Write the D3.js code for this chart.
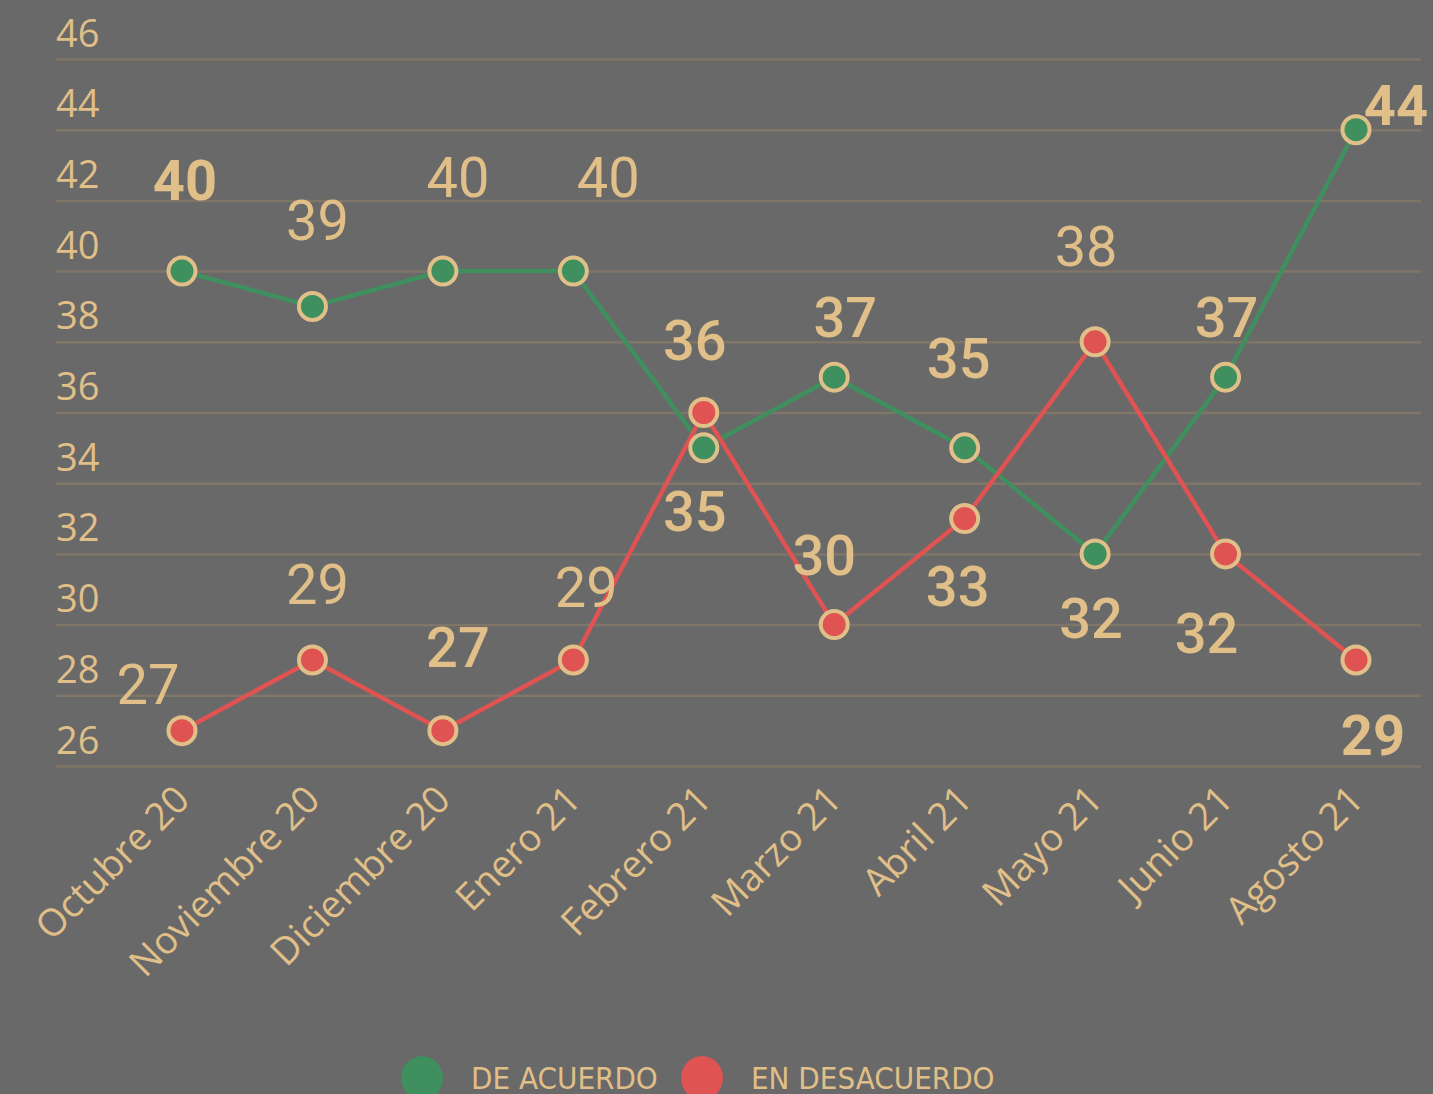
<!DOCTYPE html>
<html>
<head>
<meta charset="utf-8">
<script src="https://cdn.jsdelivr.net/npm/d3@7"></script>
<style>
  html, body { margin: 0; padding: 0; background: #696969; }
  svg { display: block; }
</style>
</head>
<body>
<div id="chart"></div>
<script>
// DATA
var months = ["Octubre 20", "Noviembre 20", "Diciembre 20", "Enero 21", "Febrero 21",
              "Marzo 21", "Abril 21", "Mayo 21", "Junio 21", "Agosto 21"];
var deAcuerdo = [40, 39, 40, 40, 35, 37, 35, 32, 37, 44];
var enDesacuerdo = [27, 29, 27, 29, 36, 30, 33, 38, 32, 29];
var yTicks = [26, 28, 30, 32, 34, 36, 38, 40, 42, 44, 46];
var seriesNames = ["DE ACUERDO", "EN DESACUERDO"];

// label placement (offset from point) and weights
var greenOffsets = [[3,-71],[5,-66],[15,-74],[35,-74],[-9,83],[11,-40],[-6,-70],[-4,84],[1,-40],[40,-5]];
var redOffsets = [[-34,-27],[5,-56],[15,-64],[13,-53],[-9,-53],[-10,-50],[-7,87],[-9,-76],[-19,99],[17,95]];
var greenWeights = [700,400,400,400,500,500,500,500,500,700];
var redWeights = [400,400,500,400,500,500,500,400,500,700];

// SET UP
var w = 1433, h = 1094;
var tan = "#e0bf88", green = "#3f8f5f", red = "#df5353", grid = "#807668";

var svg = d3.select('#chart').append('svg')
  .attr('width', w)
  .attr('height', h);

svg.append('rect').attr('width', w).attr('height', h).attr('fill', '#696969');

var x = d3.scalePoint()
  .domain(months)
  .range([182, 1356]);

var y = d3.scaleLinear()
  .domain([26, 46])
  .range([766, 59]);

// gridlines + y labels
var yAxis = d3.axisLeft(y)
  .tickValues(yTicks)
  .tickSize(-(1421 - 56))
  .tickFormat(d3.format('d'));

var gy = svg.append('g')
  .attr('transform', 'translate(56,0)')
  .call(yAxis);
gy.select('.domain').remove();
gy.selectAll('line').attr('stroke', grid).attr('stroke-width', 2.5).attr('x1', 0).attr('x2', 1421 - 56);
gy.selectAll('text')
  .attr('x', 0)
  .attr('dy', -13)
  .attr('text-anchor', 'start')
  .attr('fill', tan)
  .style('font-family', '"Open Sans", sans-serif')
  .style('font-size', '38px');

// x axis labels
var xAxis = d3.axisBottom(x).tickSize(0);
var gx = svg.append('g')
  .attr('transform', 'translate(0,766)')
  .call(xAxis);
gx.select('.domain').remove();
gx.selectAll('text')
  .attr('fill', tan)
  .attr('text-anchor', 'end')
  .attr('x', 0).attr('y', 0).attr('dy', 0)
  .attr('transform', 'translate(9,36) rotate(-45)')
  .style('font-family', '"Open Sans", sans-serif')
  .style('font-size', '38px');

// LINES
var line = d3.line()
  .x(function(d, i) { return x(months[i]); })
  .y(function(d) { return y(d); });

function drawSeries(values, color) {
  svg.append('path')
    .datum(values)
    .attr('fill', 'none')
    .attr('stroke', color)
    .attr('stroke-width', 4.5)
    .attr('d', line);
}
function drawPoints(values, color) {
  svg.append('g').selectAll('circle')
    .data(values)
    .enter().append('circle')
      .attr('cx', function(d, i) { return x(months[i]); })
      .attr('cy', function(d) { return y(d); })
      .attr('r', 13.5)
      .attr('fill', color)
      .attr('stroke', tan)
      .attr('stroke-width', 4);
}
function drawLabels(values, offsets, weights) {
  svg.append('g').selectAll('text')
    .data(values)
    .enter().append('text')
      .attr('x', function(d, i) { return x(months[i]) + offsets[i][0]; })
      .attr('y', function(d, i) { return y(d) + offsets[i][1]; })
      .attr('text-anchor', 'middle')
      .attr('fill', tan)
      .style('font-family', 'Roboto, sans-serif')
      .style('font-size', '56px')
      .style('font-weight', function(d, i) { return weights[i]; })
      .text(function(d) { return d; });
}

drawSeries(deAcuerdo, green);
drawSeries(enDesacuerdo, red);
drawPoints(deAcuerdo, green);
drawPoints(enDesacuerdo, red);
drawLabels(deAcuerdo, greenOffsets, greenWeights);
drawLabels(enDesacuerdo, redOffsets, redWeights);

// LEGEND
var legendX = [422, 702];
var legendColors = [green, red];
var legend = svg.append('g').selectAll('g')
  .data(seriesNames)
  .enter().append('g')
    .attr('transform', function(d, i) { return 'translate(' + legendX[i] + ',1078)'; });
legend.append('ellipse')
  .attr('rx', 21).attr('ry', 22)
  .attr('fill', function(d, i) { return legendColors[i]; });
legend.append('text')
  .attr('x', 49)
  .attr('y', 11)
  .attr('fill', tan)
  .style('font-family', '"Liberation Sans Narrow", "DejaVu Sans Condensed", sans-serif')
  .style('font-size', '31px')
  .text(function(d) { return d; });
</script>
</body>
</html>
